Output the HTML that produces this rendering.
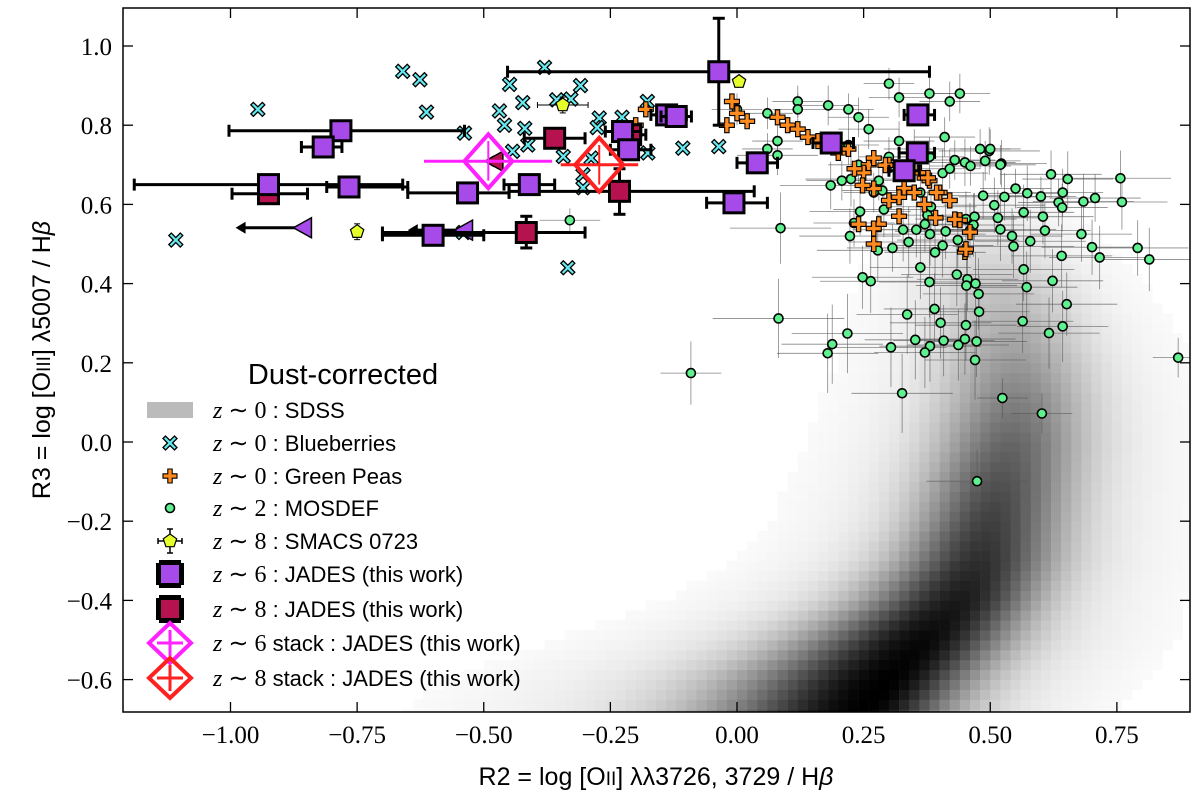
<!DOCTYPE html>
<html><head><meta charset="utf-8"><style>
body{margin:0;background:#fff;}
svg text{font-family:"Liberation Sans",sans-serif;}
.tick{font-family:"Liberation Serif",serif;font-size:25px;}
</style></head><body>
<svg id="chart" width="1200" height="801" viewBox="0 0 1200 801" xmlns="http://www.w3.org/2000/svg">
<defs><clipPath id="clip"><rect x="123" y="8" width="1067" height="704"/></clipPath></defs>
<g id="heat" clip-path="url(#clip)"></g>
<g id="marks" clip-path="url(#clip)"></g>
<rect x="123" y="8" width="1067" height="704" fill="none" stroke="#000" stroke-width="1.5"/>
<g id="axes"></g>
<text x="656" y="785" text-anchor="middle" font-size="25">R2 = log [O<tspan font-size="19">II</tspan>] λλ3726, 3729 / H<tspan font-style="italic">β</tspan></text>
<text transform="translate(50,360) rotate(-90)" text-anchor="middle" font-size="25">R3 = log [O<tspan font-size="19">III</tspan>] λ5007 / H<tspan font-style="italic">β</tspan></text>
<g id="legend"></g>
</svg>
<script>
const ridgeY=[-0.70,-0.60,-0.50,-0.40,-0.30,-0.20,-0.10,0.00,0.10,0.20,0.30,0.40,0.50,0.60];
const ridgeX=[0.24,0.30,0.37,0.44,0.48,0.50,0.52,0.54,0.55,0.55,0.54,0.52,0.50,0.50];
const ridgePeak=[1.0,1.0,0.97,0.9,0.82,0.75,0.68,0.6,0.5,0.4,0.3,0.22,0.12,0.05];
const ridgeWL=[0.2,0.19,0.16,0.13,0.11,0.1,0.1,0.1,0.1,0.1,0.1,0.1,0.1,0.1];
const ridgeWR=[0.11,0.11,0.11,0.1,0.1,0.1,0.1,0.1,0.1,0.1,0.1,0.1,0.1,0.1];
const xTicks=[-1.0,-0.75,-0.5,-0.25,0,0.25,0.5,0.75];
const xTickLabels=["−1.00","−0.75","−0.50","−0.25","0.00","0.25","0.50","0.75"];
const yTicks=[-0.6,-0.4,-0.2,0,0.2,0.4,0.6,0.8,1.0];
const yTickLabels=["−0.6","−0.4","−0.2","0.0","0.2","0.4","0.6","0.8","1.0"];
// MOSDEF [x,y,ex,ey]
const mosdef=[[0.08,0.724,0.08,0.05],[0.185,0.648,0.1,0.06],[0.207,0.66,0.07,0.05],[0.225,0.664,0.09,0.07],[0.243,0.582,0.1,0.06],[0.231,0.553,0.08,0.06],[0.223,0.52,0.1,0.07],[0.278,0.484,0.12,0.08],[0.307,0.49,0.09,0.06],[0.29,0.587,0.1,0.07],[0.287,0.635,0.08,0.06],[0.362,0.63,0.1,0.07],[0.406,0.679,0.09,0.06],[0.43,0.712,0.08,0.05],[0.45,0.706,0.1,0.06],[0.461,0.697,0.08,0.05],[0.522,0.703,0.09,0.06],[0.498,0.735,0.1,0.06],[0.328,0.536,0.1,0.08],[0.354,0.536,0.09,0.07],[0.381,0.525,0.11,0.08],[0.412,0.532,0.1,0.07],[0.383,0.594,0.09,0.07],[0.376,0.573,0.1,0.06],[0.371,0.55,0.1,0.07],[0.339,0.505,0.12,0.09],[0.406,0.496,0.1,0.08],[0.391,0.479,0.1,0.08],[0.436,0.51,0.12,0.07],[0.452,0.563,0.1,0.07],[0.469,0.569,0.09,0.06],[0.467,0.548,0.1,0.08],[0.46,0.534,0.09,0.07],[0.486,0.622,0.08,0.06],[0.508,0.598,0.1,0.07],[0.528,0.619,0.09,0.06],[0.515,0.566,0.1,0.07],[0.52,0.537,0.11,0.08],[0.543,0.52,0.1,0.07],[0.546,0.494,0.12,0.08],[0.566,0.58,0.1,0.07],[0.573,0.628,0.08,0.07],[0.579,0.507,0.11,0.08],[0.604,0.569,0.1,0.07],[0.608,0.534,0.09,0.07],[0.62,0.676,0.1,0.06],[0.643,0.63,0.08,0.06],[0.653,0.664,0.09,0.07],[0.635,0.605,0.08,0.06],[0.642,0.592,0.09,0.06],[0.684,0.607,0.1,0.07],[0.707,0.616,0.09,0.06],[0.757,0.666,0.1,0.07],[0.76,0.606,0.09,0.07],[0.68,0.525,0.1,0.07],[0.701,0.492,0.1,0.07],[0.716,0.466,0.1,0.08],[0.641,0.47,0.1,0.08],[0.791,0.49,0.1,0.07],[0.814,0.461,0.1,0.08],[0.871,0.213,0.05,0.05],[0.566,0.436,0.1,0.08],[0.572,0.391,0.1,0.09],[0.623,0.407,0.1,0.08],[0.651,0.348,0.1,0.08],[0.643,0.292,0.09,0.09],[0.616,0.275,0.1,0.09],[0.564,0.305,0.1,0.08],[0.362,0.441,0.1,0.08],[0.38,0.404,0.1,0.09],[0.434,0.423,0.11,0.08],[0.455,0.411,0.1,0.08],[0.453,0.395,0.1,0.09],[0.471,0.4,0.1,0.08],[0.477,0.374,0.11,0.09],[0.478,0.329,0.1,0.09],[0.452,0.295,0.1,0.09],[0.39,0.336,0.1,0.09],[0.402,0.301,0.1,0.09],[0.408,0.256,0.1,0.09],[0.381,0.242,0.1,0.09],[0.371,0.226,0.1,0.09],[0.352,0.258,0.1,0.1],[0.304,0.239,0.11,0.1],[0.336,0.322,0.1,0.1],[0.248,0.416,0.1,0.08],[0.264,0.406,0.1,0.08],[0.218,0.274,0.11,0.1],[0.188,0.247,0.1,0.1],[0.179,0.224,0.1,0.1],[0.082,0.312,0.13,0.1],[0.086,0.54,0.1,0.09],[-0.091,0.174,0.06,0.08],[0.326,0.123,0.1,0.1],[0.437,0.245,0.1,0.09],[0.45,0.26,0.1,0.09],[0.473,0.254,0.1,0.09],[0.47,0.207,0.1,0.1],[0.524,0.111,0.05,0.05],[0.602,0.072,0.06,0.05],[0.474,-0.099,0.1,0.08],[0.12,0.86,0.05,0.04],[0.12,0.84,0.05,0.04],[0.18,0.85,0.06,0.05],[0.22,0.84,0.05,0.04],[0.24,0.82,0.06,0.05],[0.30,0.905,0.05,0.04],[0.26,0.79,0.06,0.05],[0.32,0.87,0.06,0.05],[0.38,0.88,0.06,0.05],[0.44,0.88,0.06,0.05],[0.32,0.76,0.07,0.05],[0.22,0.75,0.06,0.05],[0.42,0.86,0.06,0.05],[0.38,0.72,0.07,0.05],[0.49,0.71,0.07,0.05],[0.52,0.70,0.07,0.05],[0.06,0.83,0.05,0.04],[0.0,0.84,0.05,0.04],[0.28,0.66,0.06,0.05],[0.27,0.63,0.06,0.05],[0.24,0.70,0.06,0.05],[0.3,0.72,0.06,0.05],[0.35,0.74,0.06,0.05],[0.5,0.74,0.06,0.05],[0.48,0.74,0.06,0.05],[0.41,0.77,0.06,0.05],[0.42,0.69,0.06,0.05],[0.55,0.64,0.07,0.05],[0.6,0.62,0.07,0.05],[-0.33,0.56,0.06,0.03],[0.08,0.76,0.05,0.04],[0.06,0.74,0.05,0.04]];
const blueberries=[[-0.66,0.936],[-0.626,0.915],[-0.946,0.84],[-0.613,0.833],[-0.538,0.78],[-0.38,0.946],[-0.449,0.903],[-0.423,0.857],[-0.309,0.9],[-0.328,0.866],[-0.356,0.864],[-0.469,0.836],[-0.459,0.8],[-0.419,0.792],[-0.413,0.75],[-0.443,0.734],[-0.343,0.721],[-0.272,0.818],[-0.276,0.794],[-0.288,0.717],[-0.304,0.675],[-0.304,0.642],[-0.177,0.86],[-0.107,0.742],[-0.036,0.746],[-1.108,0.51],[-0.54,0.529],[-0.176,0.73],[-0.334,0.44],[-0.227,0.82]];
const greenPeas=[[-0.18,0.84],[-0.01,0.86],[0.0,0.83],[0.02,0.81],[-0.02,0.8],[0.08,0.82],[0.1,0.8],[0.12,0.79],[0.14,0.77],[0.16,0.76],[0.2,0.73],[0.22,0.74],[0.26,0.7],[0.3,0.7],[0.25,0.68],[0.27,0.64],[0.3,0.61],[0.33,0.64],[0.35,0.63],[0.38,0.66],[0.4,0.63],[0.42,0.61],[0.44,0.56],[0.46,0.53],[0.36,0.68],[0.37,0.6],[0.32,0.57],[0.24,0.55],[0.27,0.5],[0.45,0.48],[0.28,0.55],[0.232,0.69],[0.27,0.717],[0.293,0.699],[0.377,0.667],[0.394,0.63],[0.43,0.562],[0.392,0.566],[0.27,0.539],[0.452,0.487],[0.32,0.618],[0.248,0.648],[-0.2,0.8]];
const smacs=[[-0.344,0.851,0.05,0.02],[0.004,0.91,0.01,0.01],[-0.75,0.531,0.0,0.02]];
// JADES [x,y,xlo,xhi,ylo,yhi]
const jades6=[[-0.036,0.935,-0.453,0.38,0.8,1.07],[-0.782,0.786,-1.003,-0.538,0.77,0.8],[-0.817,0.745,-0.86,-0.78,0.735,0.755],[-0.925,0.65,-1.19,-0.66,0.645,0.655],[-0.766,0.644,-0.81,-0.65,0.64,0.65],[-0.532,0.629,-0.65,-0.45,0.615,0.64],[-0.41,0.65,-0.46,-0.36,0.64,0.66],[-0.6,0.522,-0.7,-0.5,0.515,0.53],[-0.226,0.784,-0.26,-0.19,0.775,0.79],[-0.214,0.738,-0.25,-0.17,0.73,0.75],[-0.139,0.826,-0.17,-0.1,0.82,0.83],[-0.12,0.822,-0.15,-0.09,0.815,0.83],[-0.006,0.604,-0.06,0.06,0.595,0.615],[0.04,0.705,0.0,0.08,0.7,0.71],[0.186,0.755,0.15,0.23,0.74,0.77],[0.357,0.826,0.33,0.39,0.815,0.835],[0.356,0.73,0.32,0.39,0.715,0.745],[0.33,0.685,0.3,0.36,0.675,0.695]];
const jades8=[[-0.232,0.633,-0.45,0.034,0.575,0.69],[-0.416,0.529,-0.7,-0.3,0.49,0.57],[-0.925,0.627,-0.997,-0.848,0.62,0.635],[-0.36,0.767,-0.42,-0.3,0.755,0.78],[-0.21,0.776,-0.24,-0.18,0.765,0.79]];
const limits6=[[-0.856,0.541,-0.99],[-0.538,0.535,-0.65]];
const limits8=[[-0.478,0.709,-0.5]];
const stacks=[[-0.491,0.709,-0.618,-0.365,0.66,0.76,"#ff22ff"],[-0.272,0.70,-0.348,-0.195,0.65,0.75,"#ff2020"]];

const NS="http://www.w3.org/2000/svg";
const X=v=>737+v*506.5, Y=v=>442-v*396;
function mk(tag,attrs,parent){const e=document.createElementNS(NS,tag);for(const k in attrs)e.setAttribute(k,attrs[k]);parent.appendChild(e);return e;}
// heatmap
const heat=document.getElementById('heat');
function interp(arr,y){if(y<=ridgeY[0])return arr[0];for(let i=1;i<ridgeY.length;i++){if(y<=ridgeY[i]){const t=(y-ridgeY[i-1])/(ridgeY[i]-ridgeY[i-1]);return arr[i-1]+t*(arr[i]-arr[i-1]);}}return arr[arr.length-1];}
for(let yb=-0.7;yb<0.65;yb+=0.025){const yc=yb+0.0125;if(yc>0.62)break;
 const c=interp(ridgeX,yc),p=interp(ridgePeak,yc),wl=interp(ridgeWL,yc),wr=interp(ridgeWR,yc);
 for(let xb=-1.2;xb<0.9;xb+=0.02){const xc=xb+0.01,dx=xc-c,w=dx<0?wl:wr;
  let d=p*(0.82*Math.exp(-0.5*(dx/w)**2)+0.18*Math.exp(-0.5*(dx/(2.2*w))**2));
  if(d<0.02)continue;d=Math.min(1,d);const g=Math.round(255*(1-d));
  const r=mk('rect',{x:X(xb),y:Y(yb+0.025),width:10.4,height:10.3,fill:`rgb(${g},${g},${g})`},heat);
  
  
 }}
const marks=document.getElementById('marks');
mosdef.forEach(d=>{const g=mk('g',{},marks);
 
 
 mk('line',{x1:X(d[0]-d[2]),x2:X(d[0]+d[2]),y1:Y(d[1]),y2:Y(d[1]),stroke:'#555',"stroke-width":0.8,opacity:0.7},g);
 mk('line',{x1:X(d[0]),x2:X(d[0]),y1:Y(d[1]-d[3]),y2:Y(d[1]+d[3]),stroke:'#555',"stroke-width":0.8,opacity:0.7},g);});
mosdef.forEach(d=>{const c=mk('circle',{cx:X(d[0]),cy:Y(d[1]),r:4.5,fill:'#5ff08f',stroke:'#000',"stroke-width":1.6},marks);
 
 });
function xmark(cx,cy,s,parent){const p=`M${cx-s},${cy-s+2.5} l2.5,-2.5 l${s-2.5},${s-2.5} l${s-2.5},${-(s-2.5)} l2.5,2.5 l${-(s-2.5)},${s-2.5} l${s-2.5},${s-2.5} l-2.5,2.5 l${-(s-2.5)},${-(s-2.5)} l${-(s-2.5)},${s-2.5} l-2.5,-2.5 l${s-2.5},${-(s-2.5)}z`;return mk('path',{d:p,fill:'#66e8ee',stroke:'#000',"stroke-width":1.3},parent);}
blueberries.forEach(d=>{const e=xmark(X(d[0]),Y(d[1]),7,marks);
 
 });
function plus(cx,cy,s,parent){const a=2.2;const p=`M${cx-a},${cy-s}h${2*a}v${s-a}h${s-a}v${2*a}h${-(s-a)}v${s-a}h${-2*a}v${-(s-a)}h${-(s-a)}v${-2*a}h${s-a}z`;return mk('path',{d:p,fill:'#ff8a1e',stroke:'#000',"stroke-width":1.1},parent);}
greenPeas.forEach(d=>{const e=plus(X(d[0]),Y(d[1]),7.5,marks);
 
 });
function errPx(x,y,x1,x2,y1,y2,parent,w,cap){
 mk('line',{x1:x1,x2:x2,y1:y,y2:y,stroke:'#000',"stroke-width":w},parent);
 mk('line',{x1:x,x2:x,y1:y1,y2:y2,stroke:'#000',"stroke-width":w},parent);
 [x1,x2].forEach(v=>mk('line',{x1:v,x2:v,y1:y-cap,y2:y+cap,stroke:'#000',"stroke-width":w},parent));
 [y1,y2].forEach(v=>mk('line',{x1:x-cap,x2:x+cap,y1:v,y2:v,stroke:'#000',"stroke-width":w},parent));}
function errbars(d,parent,w,cap){errPx(X(d[0]),Y(d[1]),X(d[2]),X(d[3]),Y(d[4]),Y(d[5]),parent,w,cap);}
function pent(cx,cy,r){let p=[];for(let i=0;i<5;i++){const a=-Math.PI/2+i*2*Math.PI/5;p.push((cx+r*Math.cos(a)).toFixed(1)+','+(cy+r*Math.sin(a)).toFixed(1));}return p.join(' ');}
smacs.forEach(d=>{const g=mk('g',{},marks);
 
 
 errbars([d[0],d[1],d[0]-d[2],d[0]+d[2],d[1]-d[3],d[1]+d[3]],g,1,3);
 mk('polygon',{points:pent(X(d[0]),Y(d[1]),7),fill:'#e6ff2a',stroke:'#000',"stroke-width":1.2},g);});
limits6.concat(limits8).forEach((d,i)=>{const g=mk('g',{},marks);
 
 
 const x=X(d[0]),y=Y(d[1]),xa=X(d[2]);
 mk('line',{x1:x,x2:xa+8,y1:y,y2:y,stroke:'#000',"stroke-width":3},g);
 mk('path',{d:`M${xa},${y} l10,-6 v12z`,fill:'#000'},g);
 mk('path',{d:`M${x-10},${y} l18,-10 v20z`,fill:i<limits6.length?'#a64bea':'#b5124f',stroke:'#000',"stroke-width":1.5},g);});
function sq(d,fill,name){const g=mk('g',{},marks);
 
 
 errbars(d,g,3,6);
 mk('rect',{x:X(d[0])-10,y:Y(d[1])-10,width:20,height:20,fill:fill,stroke:'#000',"stroke-width":3},g);}
jades8.forEach(d=>sq(d,'#b5124f','jades-z8-point'));
jades6.forEach(d=>sq(d,'#a64bea','jades-z6-point'));
stacks.forEach(d=>{const g=mk('g',{},marks);
 
 
 const x=X(d[0]),y=Y(d[1]);
 mk('line',{x1:X(d[2]),x2:X(d[3]),y1:y,y2:y,stroke:d[6],"stroke-width":3},g);
 mk('line',{x1:x,x2:x,y1:Y(d[4]),y2:Y(d[5]),stroke:d[6],"stroke-width":2},g);
 mk('path',{d:`M${x},${y-27} L${x+24},${y} L${x},${y+27} L${x-24},${y}z`,fill:'none',stroke:d[6],"stroke-width":4},g);});
// axes
const ax=document.getElementById('axes');
xTicks.forEach((v,i)=>{const x=X(v);mk('line',{x1:x,x2:x,y1:712,y2:702,stroke:'#000',"stroke-width":1.3},ax);mk('line',{x1:x,x2:x,y1:8,y2:18,stroke:'#000',"stroke-width":1.3},ax);
 const t=mk('text',{x:x,y:743,"text-anchor":"middle",class:"tick"},ax);t.textContent=xTickLabels[i];
 
 });
yTicks.forEach((v,i)=>{const y=Y(v);mk('line',{x1:123,x2:133,y1:y,y2:y,stroke:'#000',"stroke-width":1.3},ax);mk('line',{x1:1190,x2:1180,y1:y,y2:y,stroke:'#000',"stroke-width":1.3},ax);
 const t=mk('text',{x:112,y:y+9,"text-anchor":"end",class:"tick"},ax);t.textContent=yTickLabels[i];
 
 });
// legend
const lg=document.getElementById('legend');
const tt=mk('text',{x:343,y:384,"text-anchor":"middle","font-size":29},lg);tt.textContent='Dust-corrected';


const legLabels=[["0","SDSS"],["0","Blueberries"],["0","Green Peas"],["2","MOSDEF"],["8","SMACS 0723"],["6","JADES (this work)"],["8","JADES (this work)"],["6 stack","JADES (this work)"],["8 stack","JADES (this work)"]];
const legY=[410,443,476,508,541,574,609,643,678];
legLabels.forEach((l,i)=>{const y=legY[i],x=170;const g=mk('g',{},lg);
 
 
 if(i==0)mk('rect',{x:147,y:y-8,width:46,height:16,fill:'#bbb'},g);
 if(i==1)xmark(x,y,7,g);
 if(i==2)plus(x,y,7,g);
 if(i==3)mk('circle',{cx:x,cy:y,r:4.5,fill:'#5ff08f',stroke:'#000',"stroke-width":1.6},g);
 if(i==4){errPx(x,y,x-12,x+12,y-12,y+12,g,1.5,3);mk('polygon',{points:pent(x,y,7),fill:'#e6ff2a',stroke:'#000',"stroke-width":1.2},g);}
 if(i==5||i==6){mk('rect',{x:x-11,y:y-14,width:22,height:28,fill:'#000'},g);mk('rect',{x:x-14,y:y-11,width:28,height:22,fill:'#000'},g);mk('rect',{x:x-9,y:y-9,width:18,height:18,fill:i==5?'#a64bea':'#b5124f'},g);}
 if(i>=7){const c=i==7?'#ff22ff':'#ff2020';mk('path',{d:`M${x},${y-20} L${x+21},${y} L${x},${y+20} L${x-21},${y}z`,fill:'none',stroke:c,"stroke-width":4},g);mk('line',{x1:x-13,x2:x+13,y1:y,y2:y,stroke:c,"stroke-width":3},g);mk('line',{x1:x,x2:x,y1:y-13,y2:y+13,stroke:c,"stroke-width":3},g);}
 const t=mk('text',{x:213,y:y+8,"font-size":22},g);
 t.innerHTML=`<tspan font-family="Liberation Serif" font-style="italic" font-size="24">z</tspan><tspan font-family="Liberation Serif" font-size="24"> ∼ </tspan>${l[0].replace(/^(\d)/,'<tspan font-family="Liberation Serif" font-size="24">$1</tspan>')} :  ${l[1]}`;});
</script>
</body></html>
